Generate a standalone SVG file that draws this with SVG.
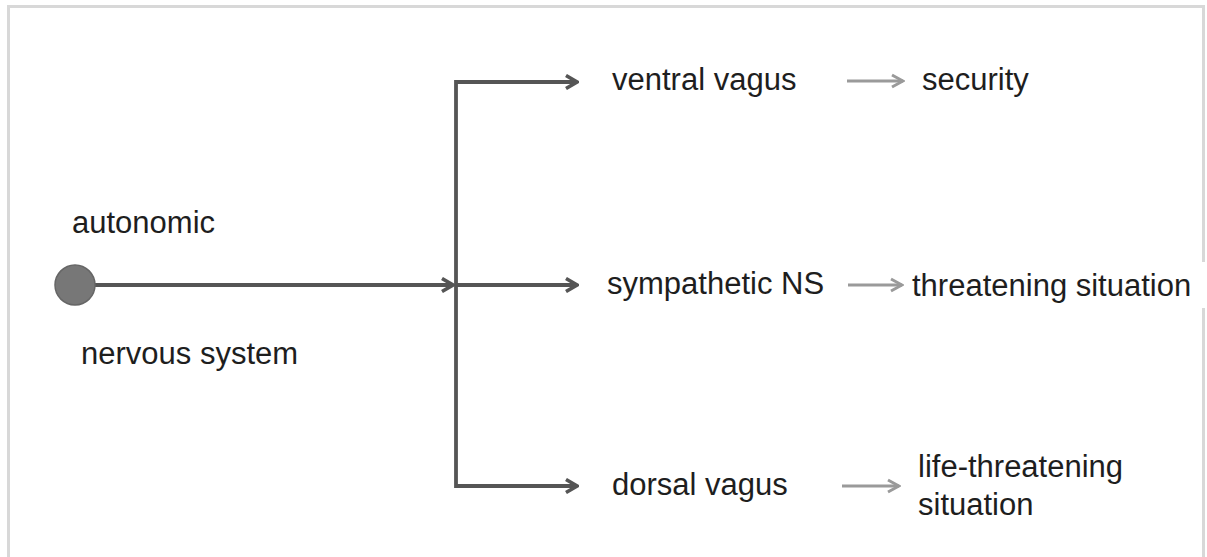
<svg xmlns="http://www.w3.org/2000/svg" width="1207" height="557" viewBox="0 0 1207 557">
  <defs>
    <marker id="headDark" viewBox="0 0 16 16" refX="14" refY="8" markerWidth="16" markerHeight="16" markerUnits="userSpaceOnUse" orient="auto">
      <path d="M3,1.5 L14,8 L3,14.5" fill="none" stroke="#555" stroke-width="3.6"/>
    </marker>
    <marker id="headLight" viewBox="0 0 16 16" refX="14" refY="8" markerWidth="16" markerHeight="16" markerUnits="userSpaceOnUse" orient="auto">
      <path d="M3,2 L14,8 L3,14" fill="none" stroke="#9a9a9a" stroke-width="3"/>
    </marker>
    <style>
      .lbl { font-family: "Liberation Sans", Arial, Helvetica, sans-serif; font-size: 31px; fill: #1e1e1e; }
      .main { fill: none; stroke: #555; stroke-width: 3.8; }
      .sub { fill: none; stroke: #9a9a9a; stroke-width: 3; }
    </style>
  </defs>

  <!-- page background and frame -->
  <rect x="0" y="0" width="1207" height="557" fill="#ffffff"/>
  <rect x="8.5" y="6.5" width="1195" height="570" fill="#ffffff" stroke="#d8d8d8" stroke-width="3"/>

  <!-- connectors -->
  <g id="connectors">
    <line class="main" x1="95" y1="285" x2="453" y2="285" marker-end="url(#headDark)"/>
    <polyline class="main" points="456,285 456,82 577,82" marker-end="url(#headDark)"/>
    <polyline class="main" points="456,285 456,486 577,486" marker-end="url(#headDark)"/>
    <line class="main" x1="456" y1="285" x2="577" y2="285" marker-end="url(#headDark)"/>
    <line class="sub" x1="847" y1="81" x2="903" y2="81" marker-end="url(#headLight)"/>
    <line class="sub" x1="848" y1="285" x2="902" y2="285" marker-end="url(#headLight)"/>
    <line class="sub" x1="842" y1="486" x2="899" y2="486" marker-end="url(#headLight)"/>
  </g>

  <!-- root: autonomic nervous system -->
  <g id="root">
    <circle cx="75" cy="285" r="20" fill="#777" stroke="#666" stroke-width="1.5"/>
    <text class="lbl" x="72" y="233">autonomic</text>
    <text class="lbl" x="81" y="364">nervous system</text>
  </g>

  <g id="ventral-vagus">
    <text class="lbl" x="612" y="90">ventral vagus</text>
  </g>
  <g id="security">
    <text class="lbl" x="922" y="90">security</text>
  </g>

  <g id="sympathetic-ns">
    <text class="lbl" x="607" y="294">sympathetic NS</text>
  </g>
  <g id="threatening-situation">
    <rect x="908" y="262" width="299" height="46" fill="#ffffff"/>
    <text class="lbl" x="912" y="296">threatening situation</text>
  </g>

  <g id="dorsal-vagus">
    <text class="lbl" x="612" y="495">dorsal vagus</text>
  </g>
  <g id="life-threatening-situation">
    <text class="lbl" x="918" y="477">life-threatening</text>
    <text class="lbl" x="918" y="515">situation</text>
  </g>
</svg>
